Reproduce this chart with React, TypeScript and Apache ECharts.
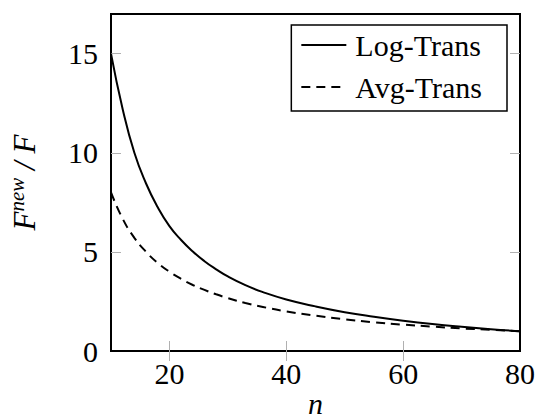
import React, { useEffect, useRef } from "react";
import * as echarts from "echarts";

const nValues = [10, 12, 14, 16, 18, 20, 22, 24, 26, 28, 30, 33, 36, 40, 45, 50, 55, 60, 65, 70, 75, 80];
const logTrans = [15.0, 12.2, 10.0, 8.45, 7.25, 6.3, 5.6, 5.02, 4.53, 4.12, 3.76, 3.32, 2.97, 2.6, 2.25, 1.96, 1.73, 1.53, 1.36, 1.22, 1.1, 1.0];
const avgTrans = [8.0, 6.67, 5.71, 5.0, 4.44, 4.0, 3.64, 3.33, 3.08, 2.86, 2.67, 2.42, 2.22, 2.0, 1.78, 1.6, 1.45, 1.33, 1.23, 1.14, 1.07, 1.0];
const xTickLabels = [20, 40, 60, 80];
const xTicks = [20, 40, 60];
const yTickLabels = [0, 5, 10, 15];
const yTicks = [5, 10, 15];
const seriesNames = ["Log-Trans", "Avg-Trans"];

const FONT = "'Liberation Serif', serif";

export default function App() {
  const ref = useRef<HTMLDivElement>(null);
  useEffect(() => {
    if (!ref.current) return;
    const chart = echarts.init(ref.current, undefined, { renderer: "svg" });
    const tickStyle = { show: true, inside: true, length: 10, lineStyle: { color: "#b0b0b0", width: 1 } };
    chart.setOption({
      animation: false,
      backgroundColor: "#fff",
      grid: {
        left: 111,
        right: 16,
        top: 14,
        bottom: 68,
        outerBoundsMode: "none",
        containLabel: false,
        show: true,
        borderColor: "#000",
        borderWidth: 2,
        backgroundColor: "transparent",
      },
      legend: {
        data: seriesNames,
        orient: "vertical",
        right: 29,
        top: 25,
        itemWidth: 45,
        itemHeight: 14,
        itemGap: 12,
        padding: [5, 25, 9, 9],
        borderColor: "#000",
        borderWidth: 1.5,
        borderRadius: 0,
        backgroundColor: "#fff",
        itemStyle: { opacity: 0 },
        textStyle: { fontFamily: FONT, fontSize: 30, color: "#000", padding: [0, 0, 0, 4] },
      },
      xAxis: [
        {
          type: "value",
          min: 10,
          max: 80,
          name: "n",
          nameLocation: "middle",
          nameGap: 37,
          nameMoveOverlap: false,
          nameTextStyle: { fontFamily: FONT, fontSize: 30, fontStyle: "italic", color: "#000" },
          axisLine: { show: false },
          splitLine: { show: false },
          axisTick: { ...tickStyle, customValues: xTicks },
          axisLabel: { customValues: xTickLabels, fontFamily: FONT, fontSize: 30, color: "#000", margin: 7 },
        },
        {
          type: "value",
          position: "top",
          min: 10,
          max: 80,
          axisLine: { show: false },
          splitLine: { show: false },
          axisTick: { ...tickStyle, customValues: xTicks },
          axisLabel: { show: false, customValues: xTicks },
        },
      ],
      yAxis: [
        {
          type: "value",
          min: 0,
          max: 17,
          name: "{i|F}{s|new}{i| / F}",
          nameLocation: "middle",
          nameGap: 71,
          nameMoveOverlap: false,
          nameTextStyle: {
            fontFamily: FONT,
            color: "#000",
            rich: {
              i: { fontFamily: FONT, fontSize: 31, fontStyle: "italic", color: "#000", lineHeight: 34, verticalAlign: "bottom" },
              s: { fontFamily: FONT, fontSize: 21, fontStyle: "italic", color: "#000", lineHeight: 34, verticalAlign: "top" },
            },
          },
          axisLine: { show: false },
          splitLine: { show: false },
          axisTick: { ...tickStyle, customValues: yTicks },
          axisLabel: { customValues: yTickLabels, fontFamily: FONT, fontSize: 30, color: "#000", margin: 13 },
        },
        {
          type: "value",
          position: "right",
          min: 0,
          max: 17,
          axisLine: { show: false },
          splitLine: { show: false },
          axisTick: { ...tickStyle, customValues: yTicks },
          axisLabel: { show: false, customValues: yTicks },
        },
      ],
      series: [
        {
          name: seriesNames[0],
          type: "line",
          xAxisIndex: 0,
          yAxisIndex: 0,
          smooth: 0.5,
          symbol: "none",
          lineStyle: { color: "#000", width: 2, type: "solid" },
          itemStyle: { color: "#000" },
          data: nValues.map((n, i) => [n, logTrans[i]]),
        },
        {
          name: seriesNames[1],
          type: "line",
          xAxisIndex: 0,
          yAxisIndex: 0,
          smooth: 0.5,
          symbol: "none",
          lineStyle: { color: "#000", width: 2, type: [9, 6] },
          itemStyle: { color: "#000" },
          data: nValues.map((n, i) => [n, avgTrans[i]]),
        },
      ],
    });
    return () => chart.dispose();
  }, []);
  return <div ref={ref} style={{ position: "absolute", left: 0, top: 0, width: 536, height: 419 }} />;
}
